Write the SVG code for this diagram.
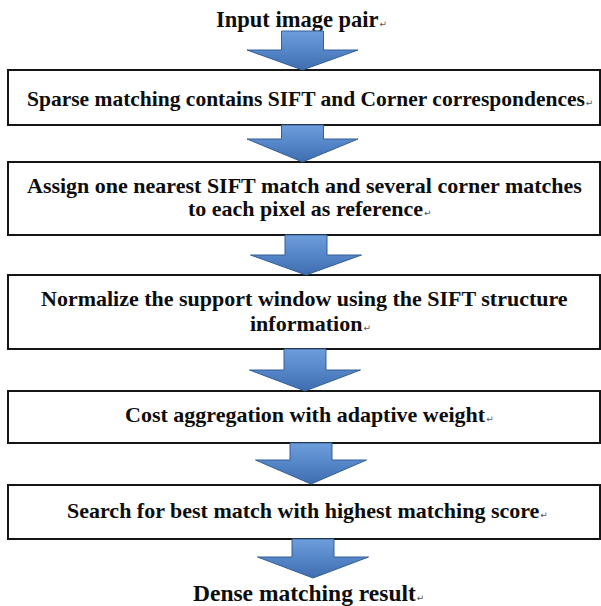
<svg xmlns="http://www.w3.org/2000/svg" width="601" height="606" viewBox="0 0 601 606">
  <defs>
    <linearGradient id="blueGrad" x1="0" y1="0" x2="0" y2="1">
      <stop offset="0" stop-color="#6E9DDB"/>
      <stop offset="0.5" stop-color="#5586C8"/>
      <stop offset="1" stop-color="#3E6DB0"/>
    </linearGradient>
  </defs>
  <style>
    .box { fill: #ffffff; stroke: #151515; stroke-width: 2; }
    .arrow { fill: url(#blueGrad); stroke: #355F95; stroke-width: 1; stroke-linejoin: miter; }
    .lbl { font-family: 'Liberation Serif', 'Times New Roman', serif; font-weight: 700; font-size: 22px; fill: #0d0d0d; }
    .pm { font-family: 'DejaVu Sans', sans-serif; font-weight: normal; font-size: 9px; fill: #555555; }
  </style>
  <rect width="601" height="606" fill="#ffffff"/>

  <g id="start">
    <text class="lbl" x="216" y="27" style="font-size:22.5px">Input image pair<tspan class="pm" dx="1">↵</tspan></text>
  </g>

  <g id="step1">
    <rect class="box" x="8" y="70" width="592" height="55"/>
    <text class="lbl" x="27" y="106" style="font-size:21.5px">Sparse matching contains SIFT and Corner correspondences<tspan class="pm" dx="1">↵</tspan></text>
  </g>

  <g id="step2">
    <rect class="box" x="8" y="162" width="592" height="73"/>
    <text class="lbl" x="27" y="193">Assign one nearest SIFT match and several corner matches</text>
    <text class="lbl" x="188" y="216">to each pixel as reference<tspan class="pm" dx="1">↵</tspan></text>
  </g>

  <g id="step3">
    <rect class="box" x="8" y="275" width="592" height="74"/>
    <text class="lbl" x="41" y="306">Normalize the support window using the SIFT structure</text>
    <text class="lbl" x="250" y="331">information<tspan class="pm" dx="1">↵</tspan></text>
  </g>

  <g id="step4">
    <rect class="box" x="8" y="391" width="592" height="52"/>
    <text class="lbl" x="125" y="422">Cost aggregation with adaptive weight<tspan class="pm" dx="1">↵</tspan></text>
  </g>

  <g id="step5">
    <rect class="box" x="8" y="485" width="592" height="54"/>
    <text class="lbl" x="67" y="518">Search for best match with highest matching score<tspan class="pm" dx="1">↵</tspan></text>
  </g>

  <g id="end">
    <text class="lbl" x="193" y="601" style="font-size:23.5px">Dense matching result<tspan class="pm" dx="1">↵</tspan></text>
  </g>

  <g id="connectors">
    <path class="arrow" d="M281.5,31 H323.5 V50 H358 L302.5,70 L247,50 H281.5 Z"/>
    <path class="arrow" d="M281.5,125 H323.5 V139 H358 L302.5,162 L247,139 H281.5 Z"/>
    <path class="arrow" d="M285,235 H327 V255 H361.5 L306,275 L250.5,255 H285 Z"/>
    <path class="arrow" d="M284,349 H326 V370 H360.5 L305,391 L249.5,370 H284 Z"/>
    <path class="arrow" d="M290,443 H332 V460 H366.5 L311,484 L255.5,460 H290 Z"/>
    <path class="arrow" d="M292,539 H334 V557 H368.5 L313,578 L257.5,557 H292 Z"/>
  </g>
</svg>
